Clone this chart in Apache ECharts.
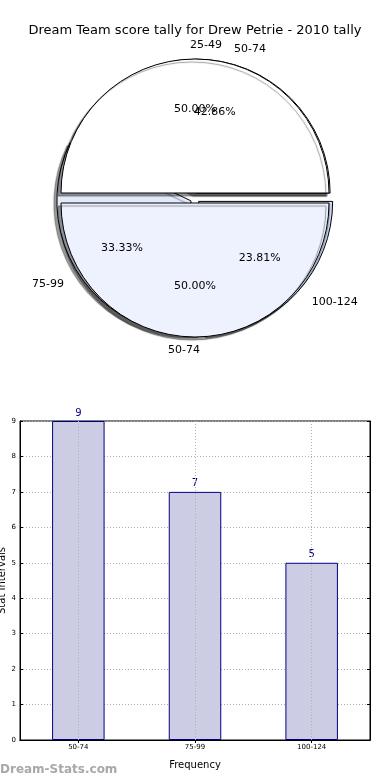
<!DOCTYPE html>
<html><head><meta charset="utf-8">
<script src="https://cdn.jsdelivr.net/npm/echarts@6/dist/echarts.min.js"></script>
<style>html,body{margin:0;padding:0;background:#fff}#c{width:390px;height:780px}</style>
</head><body><div id="c"></div>
<script>
const titleText = 'Dream Team score tally for Drew Petrie - 2010 tally';
const pieACats = ['25-49', '50-74'];
const pieAValues = [50, 50];
const pieBCats = ['50-74', '75-99', '100-124'];
const barCats = ['50-74', '75-99', '100-124'];
const barValues = [9, 7, 5];
const yTicks = [0, 1, 2, 3, 4, 5, 6, 7, 8, 9];

const FONT = 'DejaVu Sans';
const C = [195, 198];
const R = 134;
const OFF = 5;
const pieAColors = ['#ffffff', '#edf2fe'];
const pieBColors = ['#edf2fe', '#e3ebfb', '#cddcf5'];
const pieAAlign = ['left', 'right'];
const pieBAlign = ['left', 'right', 'left'];

function pieData(cats, vals, colors) {
  return cats.map((c, i) => ({ name: c, value: vals[i], selected: true,
    itemStyle: { color: colors ? colors[i] : 'rgba(0,0,0,0)' } }));
}
function pctLabel(p) { return p.percent.toFixed(2) + '%'; }
const basePie = {
  type: 'pie', center: C, startAngle: 0, clockwise: false,
  selectedMode: 'multiple', selectedOffset: OFF, avoidLabelOverlap: false,
  labelLayout: { hideOverlap: false },
  silent: true, animation: false
};
const nameLabel = { show: true, position: 'outside', formatter: '{b}', fontFamily: FONT, fontSize: 11, color: '#000' };
const nameLine = { show: false, length: R * 0.1, length2: 0 };
const pieStyle = { borderColor: '#000', borderWidth: 1, shadowColor: 'rgba(0,0,0,0.4)', shadowBlur: 1, shadowOffsetX: -3, shadowOffsetY: 3 };

const series = [
  Object.assign({}, basePie, { z: 1, radius: [0, R],
    data: pieData(pieBCats, barValues, pieBColors),
    labelLayout: p => ({ align: pieBAlign[p.dataIndex], hideOverlap: false }),
    itemStyle: pieStyle, label: nameLabel, labelLine: nameLine }),
  Object.assign({}, basePie, { z: 2, radius: [0, R],
    data: pieData(pieACats, pieAValues, pieAColors),
    labelLayout: p => ({ align: pieAAlign[p.dataIndex], hideOverlap: false }),
    itemStyle: pieStyle, label: nameLabel, labelLine: nameLine }),
  Object.assign({}, basePie, { z: 3, radius: [0, R * 1.2],
    data: pieData(pieBCats, barValues, null),
    itemStyle: { borderWidth: 0 },
    label: { show: true, position: 'inside', formatter: pctLabel, fontFamily: FONT, fontSize: 11, color: '#000' } }),
  Object.assign({}, basePie, { z: 3, radius: [0, R * 1.2],
    data: pieData(pieACats, pieAValues, null),
    itemStyle: { borderWidth: 0 },
    label: { show: true, position: 'inside', formatter: pctLabel, fontFamily: FONT, fontSize: 11, color: '#000' } }),
  {
    type: 'bar', xAxisIndex: 0, yAxisIndex: 0, data: barValues, barWidth: '45%',
    itemStyle: { color: '#cccce4', borderColor: '#000080', borderWidth: 1 },
    label: { show: true, position: 'top', color: '#000080', fontFamily: FONT, fontSize: 10, distance: 3 },
    silent: true, animation: false,
    markLine: { silent: true, symbol: 'none', label: { show: false },
      lineStyle: { color: '#b0b0b0', type: [1, 2], width: 1 },
      data: barCats.map(c => ({ xAxis: c })) }
  }
];

const tickStyle = { show: true, inside: true, length: 3, lineStyle: { color: '#000' } };
const chart = echarts.init(document.getElementById('c'));
chart.setOption({
  animation: false,
  title: { text: titleText, left: 'center', top: 19, textStyle: { fontFamily: FONT, fontSize: 13, fontWeight: 'normal', color: '#000' } },
  grid: { left: 20, right: 20, top: 421, bottom: 40, containLabel: false, outerBoundsMode: 'none', show: true, borderColor: '#000', borderWidth: 1 },
  xAxis: [{
    type: 'category', data: barCats, name: 'Frequency', nameLocation: 'middle', nameGap: 20, nameMoveOverlap: false,
    nameTextStyle: { fontFamily: FONT, fontSize: 10, color: '#000' },
    axisLine: { show: true, lineStyle: { color: '#000' } },
    axisTick: Object.assign({ alignWithLabel: true }, tickStyle),
    axisLabel: { fontFamily: FONT, fontSize: 7, color: '#000', margin: 4 },
    splitLine: { show: false }
  }, {
    type: 'category', data: barCats, position: 'top',
    axisLine: { show: true, lineStyle: { color: '#000' } },
    axisTick: Object.assign({ alignWithLabel: true }, tickStyle),
    axisLabel: { show: false }, splitLine: { show: false }
  }],
  yAxis: [{
    type: 'value', min: 0, max: 9, interval: 1, name: 'Stat Intervals', nameLocation: 'middle', nameGap: 13, nameMoveOverlap: false,
    nameTextStyle: { fontFamily: FONT, fontSize: 10, color: '#000' },
    axisLine: { show: true, lineStyle: { color: '#000' } },
    axisTick: tickStyle,
    axisLabel: { fontFamily: FONT, fontSize: 7, color: '#000', margin: 4, formatter: v => yTicks.includes(v) ? String(v) : '' },
    splitLine: { show: true, lineStyle: { color: '#b0b0b0', type: [1, 2], width: 1 } }
  }, {
    type: 'value', min: 0, max: 9, interval: 1, position: 'right',
    axisLine: { show: true, lineStyle: { color: '#000' } },
    axisTick: tickStyle, axisLabel: { show: false }, splitLine: { show: false }
  }],
  graphic: [{ type: 'text', left: 0, top: 764, style: { text: 'Dream-Stats.com', fontFamily: FONT, fontSize: 12, fontWeight: 'bold', fill: '#a8a8a8' } }],
  series: series
});
</script></body></html>
